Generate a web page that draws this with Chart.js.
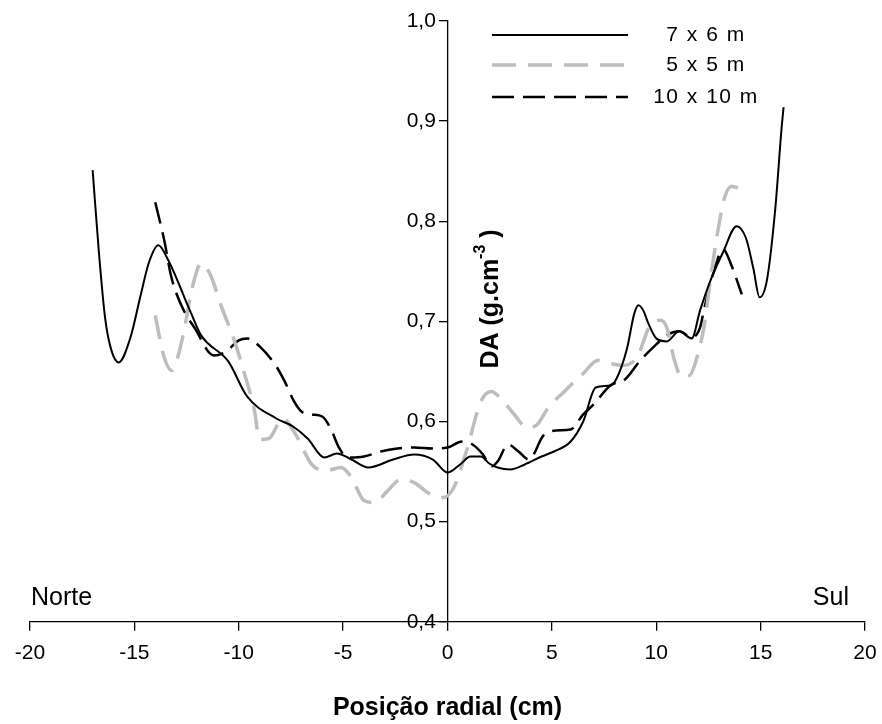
<!DOCTYPE html>
<html>
<head>
<meta charset="utf-8">
<script src="https://cdn.jsdelivr.net/npm/chart.js@4"></script>
<style>
html,body{margin:0;padding:0;background:#fff}
</style>
</head>
<body>
<canvas id="chart" width="882" height="724"></canvas>
<script>
// series names
const sizes = ["7 x 6 m", "5 x 5 m", "10 x 10 m"]

// 7 x 6 m
const pos76 = [-17, -16.7, -16.4, -16.1, -15.75, -15.2, -14.7, -14.3, -13.85, -13.4, -12.3, -11.8, -10.5, -9.6, -8.2, -7.4, -6.7, -5.9, -5.3, -4.6, -3.8, -2.6, -1.6, -0.7, 0, 0.6, 1.1, 1.6, 2.0, 2.4, 3.0, 3.7, 4.5, 5.1, 5.9, 6.5, 7.1, 7.8, 8.1, 8.6, 8.95, 9.15, 9.4, 9.6, 10.0, 10.5, 11.1, 11.7, 12.1, 12.6, 13.2, 13.85, 14.3, 14.65, 14.95, 15.3, 15.7, 16.0, 16.1]
const da76 = [0.851, 0.769, 0.703, 0.671, 0.659, 0.683, 0.726, 0.759, 0.776, 0.762, 0.709, 0.686, 0.660, 0.625, 0.603, 0.595, 0.583, 0.564, 0.568, 0.562, 0.554, 0.562, 0.567, 0.562, 0.549, 0.557, 0.565, 0.565, 0.558, 0.554, 0.552, 0.557, 0.565, 0.570, 0.580, 0.600, 0.634, 0.636, 0.643, 0.673, 0.708, 0.716, 0.710, 0.699, 0.683, 0.680, 0.690, 0.683, 0.711, 0.741, 0.769, 0.795, 0.783, 0.753, 0.724, 0.741, 0.812, 0.892, 0.914]

// 5 x 5 m
const pos55 = [-14.0, -13.6, -13.2, -12.9, -12.6, -12.2, -11.8, -11.35, -10.85, -10.2, -9.7, -9.25, -9.0, -8.55, -7.9, -7.3, -6.5, -5.8, -5.1, -4.6, -4.0, -3.5, -2.9, -2.25, -1.6, -0.8, -0.2, 0.3, 0.9, 1.6, 2.1, 2.55, 3.2, 3.8, 4.3, 4.8, 5.6, 6.5, 7.2, 7.8, 8.4, 9.1, 9.7, 10.2, 10.5, 10.85, 11.2, 11.6, 11.95, 12.3, 12.6, 13.0, 13.25, 13.6, 14.1]
const da55 = [0.706, 0.666, 0.651, 0.666, 0.693, 0.736, 0.758, 0.746, 0.716, 0.680, 0.646, 0.611, 0.582, 0.583, 0.603, 0.588, 0.557, 0.551, 0.554, 0.544, 0.521, 0.519, 0.530, 0.542, 0.539, 0.527, 0.524, 0.534, 0.570, 0.620, 0.630, 0.623, 0.607, 0.594, 0.597, 0.613, 0.630, 0.648, 0.661, 0.658, 0.656, 0.665, 0.696, 0.701, 0.694, 0.663, 0.645, 0.646, 0.664, 0.696, 0.743, 0.796, 0.822, 0.835, 0.832]

// 10 x 10 m
const pos1010 = [-14.0, -13.55, -13.25, -12.75, -12.1, -11.2, -10.6, -10.0, -9.6, -9.0, -8.2, -7.8, -7.35, -7.0, -6.5, -6.0, -5.6, -5.2, -4.8, -4.0, -3.2, -2.4, -1.6, -0.7, 0, 0.7, 1.2, 1.7, 2.1, 2.4, 2.9, 3.4, 3.9, 4.6, 5.2, 5.9, 6.5, 7.0, 7.8, 8.5, 9.2, 9.9, 10.5, 11.1, 11.7, 12.1, 12.3, 12.75, 13.2, 13.6, 14.1]
const da1010 = [0.819, 0.779, 0.746, 0.716, 0.693, 0.666, 0.670, 0.681, 0.683, 0.675, 0.655, 0.640, 0.620, 0.610, 0.607, 0.605, 0.593, 0.574, 0.564, 0.565, 0.570, 0.573, 0.574, 0.573, 0.574, 0.580, 0.577, 0.567, 0.555, 0.560, 0.577, 0.570, 0.562, 0.586, 0.591, 0.592, 0.607, 0.617, 0.636, 0.642, 0.660, 0.675, 0.686, 0.690, 0.684, 0.694, 0.713, 0.749, 0.772, 0.756, 0.727]

const xMin = -20, xMax = 20, xStep = 5
const yMin = 0.4, yMax = 1.0, yStep = 0.1
const sideLabels = ["Norte", "Sul"]
const xTitle = "Posição radial (cm)"

const pts = (xs, ys) => xs.map((x, i) => ({x: x, y: ys[i]}))

const FONT = "'Liberation Sans', Arial, sans-serif"

// legend, side labels and y title drawn on top
const extras = {
  id: "extras",
  afterDraw(chart) {
    const ctx = chart.ctx
    ctx.save()

    // legend
    const ly = [35, 65, 97]
    chart.data.datasets.forEach((ds, i) => {
      ctx.beginPath()
      ctx.strokeStyle = ds.borderColor
      ctx.lineWidth = ds.borderWidth
      ctx.setLineDash(ds.borderDash || [])
      ctx.moveTo(492, ly[i])
      ctx.lineTo(628, ly[i])
      ctx.stroke()
      ctx.setLineDash([])
      ctx.fillStyle = "#000"
      ctx.font = "21px " + FONT
      ctx.letterSpacing = "1.5px"
      ctx.textAlign = "center"
      ctx.textBaseline = "middle"
      ctx.fillText(ds.label, 706, ly[i])
    })
    ctx.letterSpacing = "0px"

    // Norte / Sul
    ctx.font = "25px " + FONT
    ctx.textBaseline = "middle"
    ctx.textAlign = "left"
    ctx.fillText(sideLabels[0], 31, 598)
    ctx.textAlign = "right"
    ctx.fillText(sideLabels[1], 849, 598)

    // y title, rotated, right of the axis
    const x0 = chart.scales.x.getPixelForValue(0)
    ctx.translate(x0 + 44, 299)
    ctx.rotate(-Math.PI / 2)
    const big = "bold 25px " + FONT, small = "bold 16px " + FONT
    const p1 = "DA (g.cm", p2 = "-3", p3 = " )"
    ctx.font = big
    const w1 = ctx.measureText(p1).width, w3 = ctx.measureText(p3).width
    ctx.font = small
    const w2 = ctx.measureText(p2).width
    const sx = -(w1 + w2 + w3) / 2
    ctx.textAlign = "left"
    ctx.textBaseline = "middle"
    ctx.font = big
    ctx.fillText(p1, sx, 0)
    ctx.font = small
    ctx.fillText(p2, sx + w1, -11)
    ctx.font = big
    ctx.fillText(p3, sx + w1 + w2, 0)
    ctx.restore()
  }
}

new Chart(document.getElementById("chart"), {
  type: "line",
  data: {
    datasets: [
      {label: sizes[0], data: pts(pos76, da76), borderColor: "#000", borderWidth: 2, pointRadius: 0},
      {label: sizes[1], data: pts(pos55, da55), borderColor: "#bdbdbd", borderWidth: 3.5, borderDash: [24, 12], pointRadius: 0},
      {label: sizes[2], data: pts(pos1010, da1010), borderColor: "#000", borderWidth: 2.5, borderDash: [22, 9], pointRadius: 0}
    ]
  },
  options: {
    responsive: false,
    animation: false,
    devicePixelRatio: 1,
    layout: {padding: {left: 30, right: 17, top: 21, bottom: 1}},
    plugins: {legend: {display: false}, tooltip: {enabled: false}},
    elements: {line: {cubicInterpolationMode: "monotone"}},
    scales: {
      x: {
        type: "linear",
        position: "bottom",
        min: xMin, max: xMax,
        ticks: {stepSize: xStep, color: "#000", font: {family: FONT, size: 21, lineHeight: 1.68}, padding: 5, maxRotation: 0},
        grid: {drawOnChartArea: false, drawTicks: true, tickLength: 9, color: "#000", lineWidth: 1.3},
        border: {color: "#000", width: 1.3},
        title: {display: true, text: xTitle, color: "#000", font: {family: FONT, size: 25, weight: "bold"}, padding: {top: 17, bottom: 0}}
      },
      y: {
        type: "linear",
        position: {x: 0},
        min: yMin, max: yMax,
        ticks: {stepSize: yStep, color: "#000", font: {family: FONT, size: 21},
          // trailing spaces keep the right-aligned label clear of the tick mark
          callback: v => v.toFixed(1).replace(".", ",") + "  "},
        grid: {drawOnChartArea: false, drawTicks: true, tickLength: 8, color: "#000", lineWidth: 1.3},
        border: {color: "#000", width: 1.3}
      }
    }
  },
  plugins: [extras]
})
</script>
</body>
</html>
